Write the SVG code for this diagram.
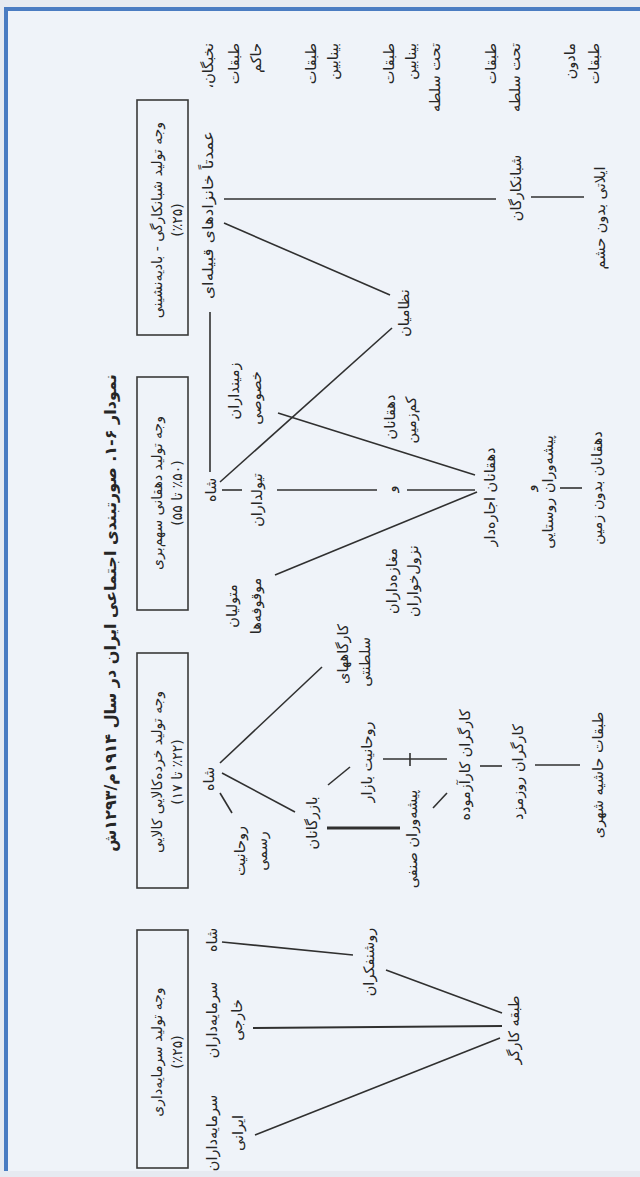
<svg xmlns="http://www.w3.org/2000/svg" width="640" height="1177" viewBox="0 0 640 1177">
<defs>
<style>
text{font-family:"DejaVu Sans","Noto Sans",sans-serif;fill:#262626;direction:rtl;}
.l{font-size:14.5px;text-anchor:middle;dominant-baseline:central;}
.h{font-size:14.5px;text-anchor:start;dominant-baseline:central;}
.b{font-size:14px;text-anchor:middle;dominant-baseline:central;}
.t{font-size:16px;font-weight:bold;text-anchor:middle;dominant-baseline:central;}
.box{fill:none;stroke:#3a3a3a;stroke-width:1.6;}
.c line{stroke:#303030;stroke-width:1.6;}
</style>
</defs>
<rect x="0" y="0" width="640" height="1177" fill="#e6eaf1"/>
<rect x="6" y="9" width="634" height="1162" fill="#eff3f9"/>
<path d="M6 1171 V9 H640" fill="none" stroke="#4a7cc2" stroke-width="4"/>

<g id="title"><text class="t" transform="translate(110,613) rotate(-90)">نمودار ۶‏-‏۱. صورتبندی اجتماعی ایران در سال ۱۹۱۴م/۱۲۹۳ش</text></g>

<g id="box1"><rect class="box" x="137" y="100" width="51" height="235"/>
<text class="b" transform="translate(157,220) rotate(-90)">وجه تولید شبانکارگی - بادیه‌نشینی</text>
<text class="b" transform="translate(177,220) rotate(-90)">(٪۲۵)</text></g>
<g id="box2"><rect class="box" x="137" y="377" width="51" height="233"/>
<text class="b" transform="translate(157,493) rotate(-90)">وجه تولید دهقانی سهم‌بری</text>
<text class="b" transform="translate(177,493) rotate(-90)">(٪۵۰ تا ۵۵)</text></g>
<g id="box3"><rect class="box" x="137" y="653" width="51" height="235"/>
<text class="b" transform="translate(157,772) rotate(-90)">وجه تولید خرده‌کالایی کالایی</text>
<text class="b" transform="translate(177,772) rotate(-90)">(٪۲۲ تا ۱۷)</text></g>
<g id="box4"><rect class="box" x="137" y="930" width="51" height="238"/>
<text class="b" transform="translate(157,1052) rotate(-90)">وجه تولید سرمایه‌داری</text>
<text class="b" transform="translate(177,1052) rotate(-90)">(٪۲۵)</text></g>

<g id="hdr-rulers"><text class="h" transform="translate(234,43) rotate(-90)">طبقات</text><text class="h" transform="translate(256,43) rotate(-90)">حاکم</text></g>
<g id="hdr-middle"><text class="h" transform="translate(311,43) rotate(-90)">طبقات</text><text class="h" transform="translate(333,43) rotate(-90)">بینابین</text></g>
<g id="hdr-middle-sub"><text class="h" transform="translate(389,43) rotate(-90)">طبقات</text><text class="h" transform="translate(411,43) rotate(-90)">بینابین</text><text class="h" transform="translate(435,43) rotate(-90)">تحت سلطه</text></g>
<g id="hdr-sub"><text class="h" transform="translate(491,43) rotate(-90)">طبقات</text><text class="h" transform="translate(515,43) rotate(-90)">تحت سلطه</text></g>
<g id="hdr-lower"><text class="h" transform="translate(570,43) rotate(-90)">مادون</text><text class="h" transform="translate(594,43) rotate(-90)">طبقات</text></g>

<g id="n-elite"><text class="h" transform="translate(208,43) rotate(-90)">نخبگان،</text><text class="l" transform="translate(208,215) rotate(-90)" textLength="168" lengthAdjust="spacingAndGlyphs">عمدتاً خانزادهای قبیله‌ای</text></g>
<g id="n-shaban"><text class="l" transform="translate(516,188) rotate(-90)">شبانکارگان</text></g>
<g id="n-ilati"><text class="l" transform="translate(600,218) rotate(-90)">ایلاتی بدون حشم</text></g>
<g id="n-nezami"><text class="l" transform="translate(404,313) rotate(-90)">نظامیان</text></g>

<g id="n-shah2"><text class="l" transform="translate(211,490) rotate(-90)">شاه</text></g>
<g id="n-zamin"><text class="l" transform="translate(234,391) rotate(-90)">زمینداران</text><text class="l" transform="translate(256,398) rotate(-90)">خصوصی</text></g>
<g id="n-tiul"><text class="l" transform="translate(257,500) rotate(-90)">تیولداران</text></g>
<g id="n-kamzamin"><text class="l" transform="translate(390,417) rotate(-90)">دهقانان</text><text class="l" transform="translate(411,420) rotate(-90)">کم‌زمین</text></g>
<g id="n-va1"><text class="l" transform="translate(391,489) rotate(-90)">و</text></g>
<g id="n-ejare"><text class="l" transform="translate(490,497) rotate(-90)">دهقانان اجاره‌دار</text></g>
<g id="n-maghaze"><text class="l" transform="translate(392,581) rotate(-90)">مغازه‌داران</text><text class="l" transform="translate(413,581) rotate(-90)">نزول‌خواران</text></g>
<g id="n-motavalli"><text class="l" transform="translate(232,606) rotate(-90)">متولیان</text><text class="l" transform="translate(256,606) rotate(-90)">موقوفه‌ها</text></g>
<g id="n-pishe-r"><text class="l" transform="translate(530,488) rotate(-90)">و</text><text class="l" transform="translate(548,492) rotate(-90)">پیشه‌وران روستایی</text></g>
<g id="n-bedun"><text class="l" transform="translate(597,488) rotate(-90)">دهقانان بدون زمین</text></g>

<g id="n-shah3"><text class="l" transform="translate(209,779) rotate(-90)">شاه</text></g>
<g id="n-kargah"><text class="l" transform="translate(343,654) rotate(-90)">کارگاههای</text><text class="l" transform="translate(365,662) rotate(-90)">سلطنتی</text></g>
<g id="n-bazargan"><text class="l" transform="translate(312,823) rotate(-90)">بازرگانان</text></g>
<g id="n-rouhani-r"><text class="l" transform="translate(240,851) rotate(-90)">روحانیت</text><text class="l" transform="translate(262,851) rotate(-90)">رسمی</text></g>
<g id="n-rouhani-b"><text class="l" transform="translate(367,762) rotate(-90)">روحانیت بازار</text></g>
<g id="n-pishe-s"><text class="l" transform="translate(412,839) rotate(-90)">پیشه‌وران صنفی</text></g>
<g id="n-karazmude"><text class="l" transform="translate(465,765) rotate(-90)">کارگران کارآزموده</text></g>
<g id="n-ruzmozd"><text class="l" transform="translate(518,772) rotate(-90)">کارگران روزمزد</text></g>
<g id="n-hashie"><text class="l" transform="translate(598,775) rotate(-90)">طبقات حاشیه شهری</text></g>

<g id="n-shah4"><text class="l" transform="translate(212,940) rotate(-90)">شاه</text></g>
<g id="n-khareji"><text class="l" transform="translate(212,1020) rotate(-90)">سرمایه‌داران</text><text class="l" transform="translate(237,1020) rotate(-90)">خارجی</text></g>
<g id="n-irani"><text class="l" transform="translate(212,1133) rotate(-90)">سرمایه‌داران</text><text class="l" transform="translate(238,1133) rotate(-90)">ایرانی</text></g>
<g id="n-roushan"><text class="l" transform="translate(369,962) rotate(-90)">روشنفکران</text></g>
<g id="n-kargar"><text class="l" transform="translate(514,1030) rotate(-90)">طبقه کارگر</text></g>

<g id="connectors" class="c">
<line x1="224" y1="199" x2="496" y2="199"/>
<line x1="531" y1="197" x2="584" y2="197"/>
<line x1="224" y1="223" x2="390" y2="295"/>
<line x1="210" y1="312" x2="210" y2="472"/>
<line x1="220" y1="482" x2="392" y2="328"/>
<line x1="278" y1="413" x2="475" y2="475"/>
<line x1="222" y1="490" x2="242" y2="490"/>
<line x1="277" y1="490" x2="377" y2="490"/>
<line x1="407" y1="490" x2="475" y2="490"/>
<line x1="275" y1="575" x2="477" y2="492"/>
<line x1="560" y1="488" x2="582" y2="488"/>
<line x1="220" y1="763" x2="322" y2="667"/>
<line x1="222" y1="773" x2="295" y2="812"/>
<line x1="220" y1="793" x2="232" y2="813"/>
<line x1="328" y1="785" x2="350" y2="767"/>
<line x1="327" y1="828" x2="400" y2="828" style="stroke-width:3"/>
<line x1="383" y1="759" x2="447" y2="759"/>
<line x1="410" y1="753" x2="410" y2="766"/>
<line x1="433" y1="808" x2="447" y2="793"/>
<line x1="480" y1="766" x2="502" y2="766"/>
<line x1="535" y1="765" x2="580" y2="765"/>
<line x1="222" y1="942" x2="353" y2="955"/>
<line x1="386" y1="970" x2="502" y2="1013"/>
<line x1="253" y1="1028" x2="502" y2="1026" style="stroke-width:2"/>
<line x1="255" y1="1135" x2="500" y2="1038"/>
</g>
</svg>
